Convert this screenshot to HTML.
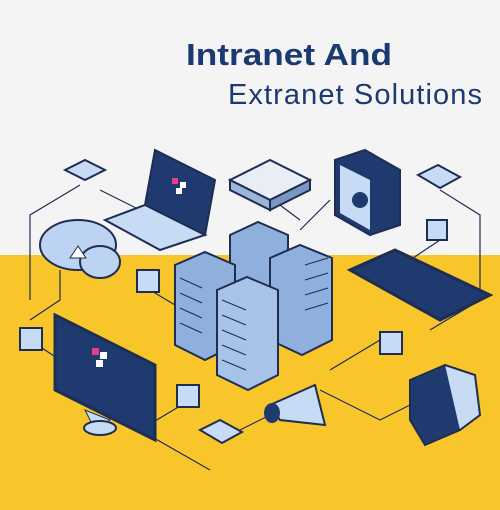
<!DOCTYPE html>
<html><head><meta charset="utf-8"><style>
html,body{margin:0;padding:0;width:500px;height:510px;overflow:hidden;background:#f5f5f5}
svg{display:block}
</style></head><body>
<svg width="500" height="510" viewBox="0 0 500 510" xmlns="http://www.w3.org/2000/svg">
<rect width="500" height="255" fill="#f4f4f4"/>
<rect y="255" width="500" height="255" fill="#f8c52a"/>
<text x="186" y="65" font-family="Liberation Sans, sans-serif" font-weight="bold" font-size="31" fill="#1c3a72" textLength="206" lengthAdjust="spacingAndGlyphs">Intranet And</text>
<text x="228" y="104" font-family="Liberation Sans, sans-serif" font-size="29" fill="#1c3a72" textLength="254">Extranet Solutions</text>
<g stroke="#1e2d52" stroke-width="1.2" fill="none">
<path d="M80 185 L30 215 L30 300"/><path d="M100 190 L150 215"/>
<path d="M60 270 L60 300 L30 320"/><path d="M150 290 L200 320"/>
<path d="M440 190 L480 215 L480 300 L430 330"/><path d="M440 240 L410 260"/>
<path d="M380 340 L330 370"/><path d="M190 400 L140 430 L210 470"/>
<path d="M30 340 L60 360"/><path d="M330 200 L300 230"/>
<path d="M260 190 L300 220"/><path d="M220 440 L280 410"/>
<path d="M420 400 L380 420 L320 390"/>
</g>
<g>
<ellipse cx="78" cy="245" rx="38" ry="25" fill="#bcd4f2" stroke="#1e2d52" stroke-width="2"/>
<ellipse cx="100" cy="262" rx="20" ry="16" fill="#bcd4f2" stroke="#1e2d52" stroke-width="2"/>
<path d="M70 258 L78 246 L86 258 Z" fill="#fff" stroke="#1e2d52"/>
</g>
<path d="M155 150 L215 180 L205 235 L145 205 Z" fill="#1e3a6e" stroke="#1e2d52" stroke-width="2"/>
<path d="M145 205 L205 235 L160 250 L105 220 Z" fill="#c8dbf5" stroke="#1e2d52" stroke-width="2"/>
<rect x="172" y="178" width="6" height="6" fill="#e83e8c"/><rect x="180" y="182" width="6" height="6" fill="#fff"/><rect x="176" y="188" width="6" height="6" fill="#fff"/>
<path d="M230 180 L270 160 L310 180 L270 200 Z" fill="#e9eef6" stroke="#1e2d52" stroke-width="2"/>
<path d="M230 180 L270 200 L270 210 L230 190 Z" fill="#9db5d8" stroke="#1e2d52" stroke-width="2"/>
<path d="M270 200 L310 180 L310 190 L270 210 Z" fill="#7b96c3" stroke="#1e2d52" stroke-width="2"/>
<path d="M335 160 L365 150 L400 170 L400 225 L370 235 L335 215 Z" fill="#1e3a6e" stroke="#1e2d52" stroke-width="2"/>
<path d="M340 165 L370 180 L370 230 L340 213 Z" fill="#c8dbf5"/>
<circle cx="360" cy="200" r="8" fill="#1e3a6e"/>
<g fill="#c8dbf5" stroke="#1e2d52" stroke-width="2">
<path d="M65 170 L85 160 L105 170 L85 180 Z"/><path d="M418 175 L438 165 L460 177 L440 188 Z"/>
<rect x="427" y="220" width="20" height="20"/><rect x="137" y="270" width="22" height="22"/>
<rect x="20" y="328" width="22" height="22"/><rect x="177" y="385" width="22" height="22"/>
<rect x="380" y="332" width="22" height="22"/><path d="M200 430 L220 420 L242 432 L222 443 Z"/>
</g>
<g stroke="#1e2d52" stroke-width="2">
<path d="M230 235 L258 222 L288 235 L288 300 L260 315 L230 300 Z" fill="#8fb0dc"/>
<path d="M175 265 L205 252 L235 265 L235 345 L205 360 L175 345 Z" fill="#8fb0dc"/>
<path d="M270 258 L300 245 L332 258 L332 340 L302 355 L270 340 Z" fill="#8fb0dc"/>
<path d="M217 290 L247 277 L278 290 L278 375 L248 390 L217 375 Z" fill="#a8c3e8"/>
</g>
<g stroke="#1e2d52" stroke-width="1" fill="#6a8cc4">
<path d="M222 300 L246 310 M222 315 L246 325 M222 330 L246 340 M222 345 L246 355 M222 360 L246 370" />
<path d="M180 278 L202 288 M180 293 L202 303 M180 308 L202 318 M180 323 L202 333" />
<path d="M305 265 L328 258 M305 280 L328 273 M305 295 L328 288 M305 310 L328 303" />
</g>
<path d="M350 270 L395 250 L490 295 L440 320 Z" fill="#1e3a6e" stroke="#1e2d52" stroke-width="3"/>
<path d="M55 315 L155 365 L155 440 L55 390 Z" fill="#1e3a6e" stroke="#1e2d52" stroke-width="3"/>
<path d="M85 410 L110 420 L95 430 Z" fill="#c8dbf5" stroke="#1e2d52"/>
<ellipse cx="100" cy="428" rx="16" ry="7" fill="#c8dbf5" stroke="#1e2d52" stroke-width="2"/>
<rect x="92" y="348" width="7" height="7" fill="#e83e8c"/><rect x="100" y="352" width="7" height="7" fill="#fff"/><rect x="96" y="360" width="7" height="7" fill="#fff"/>
<path d="M270 405 L315 385 L325 425 L280 420 Z" fill="#c8dbf5" stroke="#1e2d52" stroke-width="2"/>
<ellipse cx="272" cy="413" rx="8" ry="10" fill="#1e3a6e"/>
<path d="M410 380 L445 365 L460 395 L460 430 L425 445 L410 420 Z" fill="#1e3a6e" stroke="#1e2d52" stroke-width="2"/>
<path d="M445 365 L475 375 L480 415 L460 430" fill="#c8dbf5" stroke="#1e2d52" stroke-width="2"/>
</svg>
</body></html>
